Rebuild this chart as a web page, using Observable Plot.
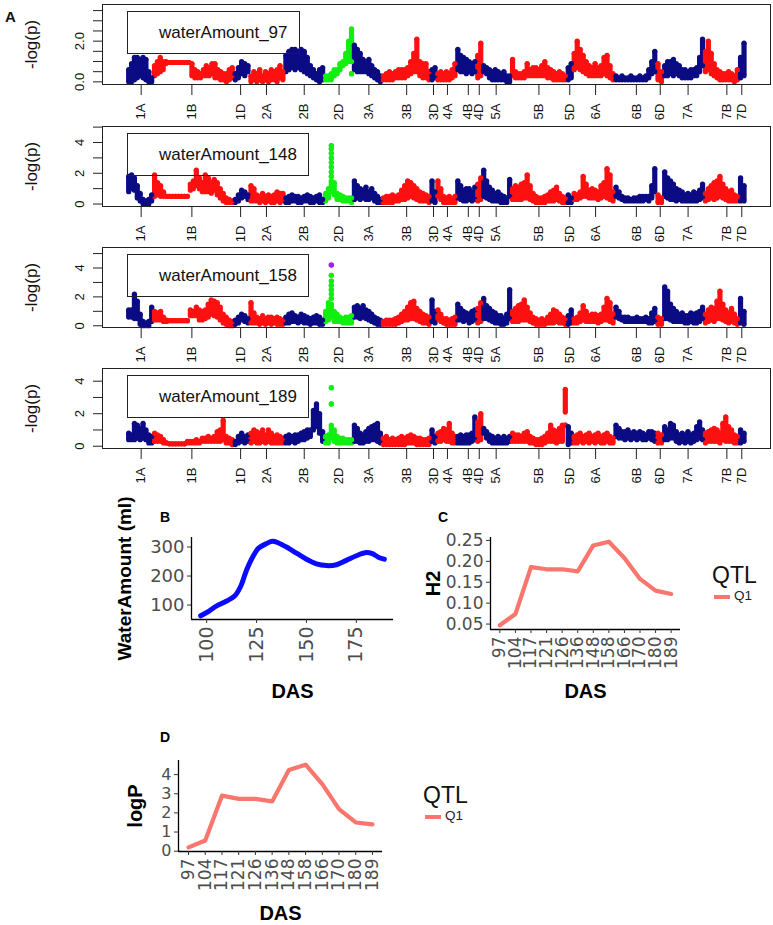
<!DOCTYPE html>
<html><head><meta charset="utf-8">
<script src="https://cdn.jsdelivr.net/npm/d3@7"></script>
<script src="https://cdn.jsdelivr.net/npm/@observablehq/plot@0.6"></script>
<style>
body{margin:0;background:#fff;}
#fig{position:relative;width:773px;height:925px;background:#fff;font-family:"Liberation Sans",Arial,Helvetica,sans-serif;overflow:hidden}
</style></head><body><div id="fig"></div><script>
// ---------- Panel A data (Manhattan plots) ----------
const chromNames = ["1A","1B","1D","2A","2B","2D","3A","3B","3D","4A","4B","4D","5A","5B","5D","6A","6B","6D","7A","7B","7D"];
const chromLengths = [26,81,16,35,40,29,29,49,6,20,20,6,29,56,6,42,42,7,41,35,7];
const chromTickPos = [14,65,114,140,178,213,243,281,308,322,343,354,371,414,445,471,512,536,564,603,618];
const highlightChrom = "2D";
// Each chromosome: marker bins along the chromosome; "lo-hi" = range of -log(p) x10 within bin, "/" separates clusters
const p97 = [
"0-6 0-9 1-12 2-12 3-11 2-12 1-11 0-5 0-2",
"3-8 4-10 5-12 6-10 9-10 9.5 9.5 9.5 9.5 9.5 9.5 9.5 9.5 3-9 2-6 2-5 2-4 3-6 3-8 3-7 4-9 2-9 2-6 1-5 1-4 0-4 1-6 2-7",
"1-4 2-7 4-10 3-9 5-8",
"0-3 1-5 0-4 1-6 0-3 1-5 0-4 1-6 1-5 0-6 2-8 1-5",
"5-13 6-15 7-16 6-16 7-15 6-16 5-15 4-12 3-8 2-6 1-4 0-6 1-7",
"1-3 1-3 1-4 3-6 4-6 6-9 8-10 9-14 10-20 4/10-26",
"6-18 5-16 5-14 5-11 5-10 4-11 3-8 2-6 1-5 0-3",
"1-3 1-4 1-5 1-4 2-5 2-6 2-6 2-6 3-7 4-10 5-14 5-21 3-10 2-9 2-9 1-5",
"1-6 2-7",
"1-4 1-5 1-4 1-5 1-4 2-6 3-9",
"6-16 5-13 5-12 4-11 5-10 4-9 5-10",
"2-13 3-19",
"5-8 4-7 2-6 1-5 1-6 1-5 1-4 1-5 0-3 0-3",
"3-11 2-5 2-4 2-4 2-5 3-9 3-6 3-7 3-7 3-6 3-8 3-10 2-7 2-6 1-5 1-4 1-5 1-4 1-3",
"1-7 2-9",
"6-14 7-20 6-16 5-13 4-10 3-8 3-7 3-9 3-7 3-8 4-12 3-13 2-8 1-4",
"1-3 1-2 1-3 1-2 1-2 1-3 1-2 1-2 1-3 1-2 1-3 2-6 4-10 5-15",
"1-9 0-5",
"3-8 3-10 4-10 3-11 4-9 3-8 2-6 2-6 2-5 2-6 3-6 3-7 5-12 8-21",
"5-15 6-20 4-14 3-9 2-6 1-5 1-4 1-4 1-5 1-4 0-3 1-6",
"2-12 3-19"];
const p148 = [
"8-18 10-19 9-17 4-12 2-7 0-3 0-2 0-3 2-6",
"5-19 6-14 5-12 5-8 5 5 5 5 5 5 5 5 9-13 10-15 12-22 10-17 8-14 8-19 8-17 7-14 9-16 6-14 4-10 2-7 1-4 1-3 1-2",
"1-3 2-6 4-9 5-8 3-6",
"2-12 2-10 2-6 1-5 2-7 1-5 2-6 1-5 1-6 2-8 1-7 2-7",
"1-4 1-5 2-6 2-5 1-5 1-4 2-5 2-6 1-5 1-4 2-5 1-6 1-3",
"2-7 4-10 8-15/18/21/24/27/30/33/36/38 6-14 3-7 3-6 2-5 2-4 2-4 1-4",
"3-15 4-12 3-10 4-9 3-11 3-8 4-10 2-7 1-5 1-3",
"1-4 1-5 1-5 1-6 2-5 2-6 3-9 3-12 4-15 5-14 4-12 3-10 2-8 2-7 2-6 1-5",
"2-15 1-8",
"5-15 3-10 1-5 1-4 1-5 1-3 1-5",
"4-15 3-12 2-9 2-10 3-10 2-8 3-11",
"2-13 3-17",
"5-22 4-15 3-11 2-9 2-7 2-8 1-6 1-5 1-4 5-16",
"3-10 3-12 3-11 3-13 4-14 4-19 3-12 2-7 1-5 1-4 1-4 1-5 2-6 2-8 2-9 3-11 2-7 1-5 1-4",
"1-6 1-4",
"3-7 3-6 4-8 5-18 5-13 4-9 4-10 4-9 3-8 4-12 5-14 4-23 3-19 2-8",
"5-11 4-8 3-5 2-4 2-4 2-3 2-4 2-4 2-5 2-5 3-5 2-5 4-12 8-23",
"1-6 1-4",
"5-21 4-17 3-15 3-13 2-10 3-9 2-8 2-6 2-7 2-6 2-8 2-7 3-9 4-13",
"2-7 3-10 4-12 3-14 4-15 5-18 4-13 3-10 2-8 2-9 2-6 2-5",
"2-17 2-12"];
const p158 = [
"6-11 6-11 5-22 5-17 1-8 0-3 0-2 0-3 3-13",
"4-10 4-9 4-10 3-6 3-4 3.5 3.5 3.5 3.5 3.5 3.5 3.5 7-11 7-10 7-13 4-11 4-10 5-11 6-15 8-18 7-17 6-16 4-13 2-8 1-6 0-4 0-3",
"1-4 2-6 4-8 3-7 2-5",
"2-16 2-9 2-6 1-5 2-7 1-5 2-6 1-6 2-5 1-6 1-5 1-4",
"2-6 2-8 3-9 3-7 2-6 3-8 2-7 2-6 1-5 2-6 2-7 1-6 1-4",
"3-10 4-16 6-15/19/22/25/28/31/35 3-10 3-8 3-6 2-5 2-6 2-6 2-7",
"6-13 6-14 5-12 6-14 5-11 4-10 3-8 2-6 1-5 1-4",
"1-3 1-4 1-4 1-4 1-5 2-6 3-8 4-10 4-13 5-16 5-17 4-12 3-10 2-8 2-7 1-6",
"3-18 2-10",
"5-11 3-8 2-5 1-5 1-4 1-5 1-6",
"4-15 4-12 3-10 4-9 2-8 3-10 4-11",
"2-12 3-16",
"5-19 5-14 4-12 3-10 2-9 2-7 1-7 1-5 2-8 5-25",
"3-10 3-12 3-14 4-15 4-18 4-13 3-9 2-6 1-5 1-4 1-5 1-4 2-6 2-8 2-11 3-10 2-8 2-6 1-5",
"1-7 2-11",
"2-5 2-6 3-9 4-14 3-10 3-7 3-8 3-8 2-7 3-8 4-13 4-19 3-16 2-8",
"6-13 5-10 4-6 3-6 3-6 3-5 3-5 3-6 3-5 3-5 3-6 2-5 2-9 3-12",
"1-6 1-5",
"5-27 5-24 4-15 3-12 3-10 3-8 3-9 2-7 2-7 3-9 2-8 2-9 3-10 5-13",
"2-8 3-11 4-13 3-12 5-17 5-24 4-15 3-11 2-9 3-12 2-8 1-5",
"2-19 1-10"];
const p189 = [
"4-8 4-7 4-14 5-13 4-11 5-14 4-10 2-7 2-6",
"3-8 3-7 3-6 2-4 2 1.5 1.5 1.5 1.5 1.5 1.5 2-3 2-3 2-3 2-4 2-3 3-5 3-5 3-6 3-5 3-6 3-9 3-10 4-16 2-6 2-5 1-4",
"1-3 2-6 3-8 2-6 3-7",
"2-8 3-10 2-9 2-8 3-10 2-7 3-10 2-8 2-6 2-7 2-6 2-5",
"2-6 2-7 3-6 2-7 3-7 4-8 4-9 5-10 6-10 10-22 12-26 8-20 3-9",
"2-6 2-7 5-13/26/36 3-10 2-6 2-5 2-5 2-4 2-4 2-4",
"3-13 3-11 2-8 2-7 3-9 3-11 4-12 4-13 3-14 2-8",
"1-5 1-6 1-4 1-5 1-4 1-5 1-6 1-5 2-6 2-7 2-6 1-5 1-5 1-4 1-4 1-5",
"3-10 2-6",
"3-8 3-9 4-11 3-10 3-14 2-8 2-6",
"2-6 2-7 2-6 2-7 2-7 3-8 4-18",
"3-15 4-20",
"8-11 5-9 3-7 2-6 2-5 2-6 2-5 2-6 2-5 3-6",
"3-8 3-7 3-7 3-6 3-8 3-9 2-6 2-5 1-4 1-4 1-5 2-6 3-8 3-13 3-10 2-9 3-11 3-13 13/21-35",
"1-12 2-8",
"2-6 2-7 3-8 2-6 3-7 2-8 3-6 2-7 3-8 2-6 2-7 3-8 2-6 2-5",
"6-13 5-11 5-9 4-9 5-10 4-8 5-9 4-8 5-9 4-8 4-7 5-9 4-9 3-8",
"2-8 2-7",
"4-12 4-10 5-14 5-13 3-9 2-7 3-8 2-7 3-9 2-7 3-8 4-12 5-15 4-10",
"2-8 3-9 3-10 3-11 3-10 2-8 4-14 3-18 3-12 3-10 2-7 2-6",
"2-10 3-8"];
const traitNames = ["waterAmount_97","waterAmount_148","waterAmount_158","waterAmount_189"];
const topMarker158 = {chrom: "2D", bin: 2, value: 4.2};

// ---------- Panels B, C, D data ----------
const bDas = [97,101,105,110,114,117,120,123,126,130,133,136,140,145,150,155,160,165,170,175,180,183,186,189];
const bWater = [63,78,97,114,131,164,221,265,296,312,320,314,300,279,258,242,236,239,254,270,281,277,265,258];
const bTicksX = [100,125,150,175];
const bTicksY = [100,200,300];
const qtlDas = [97,104,117,121,126,136,148,158,166,170,180,189];
const h2 = [0.047,0.074,0.186,0.181,0.181,0.176,0.238,0.247,0.208,0.158,0.130,0.122];
const logP = [0.2,0.56,2.9,2.73,2.73,2.6,4.24,4.52,3.5,2.2,1.5,1.4];
const h2Ticks = [0.05,0.10,0.15,0.20,0.25];
const logPTicks = [0,1,2,3,4];

// ---------- helpers ----------
const fig = document.getElementById("fig");
const FONT = '"Liberation Sans", Arial, Helvetica, sans-serif';
const NAVY = "#0b0b84", RED = "#ff1010", GREEN = "#10f010", PURPLE = "#a020f0";
const colorOf = ci => chromNames[ci] === highlightChrom ? GREEN : (ci % 2 ? RED : NAVY);

function parseBins(bins) {
  const rows = [];
  let start = 0;
  bins.forEach((str, ci) => {
    const tokens = str.trim().split(/\s+/);
    const len = chromLengths[ci];
    tokens.forEach((tok, k) => {
      const x = start + (k + 0.5) * len / tokens.length;
      tok.split("/").forEach(part => {
        const [a, b = a] = part.split("-").map(Number);
        rows.push({chrom: chromNames[ci], ci, k, x, lo: a / 10, hi: b / 10, color: colorOf(ci)});
      });
    });
    start += len;
  });
  return rows;
}
function place(node, left, top) {
  node.style.position = "absolute";
  node.style.left = left + "px";
  node.style.top = top + "px";
  fig.appendChild(node);
  return node;
}
function html(text, left, top, css) {
  const d = document.createElement("div");
  d.textContent = text;
  d.style.cssText = `position:absolute;left:${left}px;top:${top}px;white-space:nowrap;${css}`;
  fig.appendChild(d);
  return d;
}
const expand = (ext, f = 0.05) => [ext[0] - (ext[1] - ext[0]) * f, ext[1] + (ext[1] - ext[0]) * f];

// ---------- Panel A ----------
const genomeLen = d3.sum(chromLengths);
const xPad = genomeLen * 0.04;
const panelCfg = [
  {bins: p97, y: [-0.13, 3.8], ticks: d3.range(0, 3.51, 0.5), labeled: [0, 2], fmt: d3.format(".1f")},
  {bins: p148, y: [-0.16, 5.04], ticks: d3.range(0, 5.01, 1), labeled: [0, 2, 4], fmt: d3.format("d")},
  {bins: p158, y: [-0.12, 5.42], ticks: d3.range(0, 5.01, 1), labeled: [0, 2, 4], fmt: d3.format("d")},
  {bins: p189, y: [-0.14, 4.78], ticks: d3.range(0, 4.01, 1), labeled: [0, 2, 4], fmt: d3.format("d")}
];
const boxTops = [4, 126, 247, 368];

panelCfg.forEach((cfg, pi) => {
  const rows = parseBins(cfg.bins);
  const marks = [
    Plot.ruleX(rows.filter(d => d.hi > d.lo), {x: "x", y1: "lo", y2: "hi", stroke: "color", strokeWidth: 5.2}),
    Plot.dot(rows, {x: "x", y: "lo", r: 2.6, fill: "color"}),
    Plot.dot(rows, {x: "x", y: "hi", r: 2.6, fill: "color"})
  ];
  if (pi === 2) {
    const ci = chromNames.indexOf(topMarker158.chrom);
    const ref = rows.find(d => d.ci === ci && d.k === topMarker158.bin);
    marks.push(Plot.dot([{x: ref.x, v: topMarker158.value}], {x: "x", y: "v", r: 2.8, fill: PURPLE}));
  }
  marks.push(
    Plot.frame({stroke: "#222", strokeWidth: 1}),
    Plot.axisY({ticks: cfg.ticks, tickFormat: d => cfg.labeled.includes(d) ? cfg.fmt(d) : "", tickRotate: -90,
      tickSize: 9, tickPadding: 10, fontSize: 13, label: null, fill: "#111", stroke: "#222"}),
    Plot.axisX({ticks: chromTickPos, tickFormat: d => chromNames[chromTickPos.indexOf(d)], tickRotate: -90,
      tickSize: 11, tickPadding: 8, fontSize: 13, label: null, fill: "#111", stroke: "#222"}),
    Plot.text(["-log(p)"], {frameAnchor: "left", dx: -71, rotate: -90, textAnchor: "middle", lineAnchor: "middle", fontSize: 17, fill: "#111"})
  );
  const svg = Plot.plot({
    width: 773, height: 121, marginLeft: 102, marginRight: 3, marginTop: 2, marginBottom: 39,
    x: {domain: [-xPad, genomeLen + xPad], label: null},
    y: {domain: cfg.y, label: null},
    color: {type: "identity"},
    style: {fontFamily: FONT, background: "transparent", overflow: "visible", color: "#111"},
    marks
  });
  place(svg, 0, boxTops[pi] - 2);
  html(traitNames[pi], 127, boxTops[pi] + 7,
    "border:1px solid #222;box-sizing:border-box;height:43px;line-height:41px;font-size:17px;padding:0 11px 0 31px;color:#111;");
});
html("A", 5, 8, "font-weight:bold;font-size:15px;color:#111;");

// ---------- Panel B ----------
const axisStyle = {fontFamily: '"DejaVu Sans", sans-serif', background: "transparent", overflow: "visible", color: "#111"};
{
  const rows = bDas.map((d, i) => ({das: d, water: bWater[i]}));
  const xd = expand(d3.extent(bDas)), yd = expand(d3.extent(bWater));
  const svg = Plot.plot({
    width: 400, height: 210, marginLeft: 191, marginRight: 7, marginTop: 37, marginBottom: 91,
    x: {domain: xd, label: null}, y: {domain: yd, label: null},
    style: axisStyle,
    marks: [
      Plot.line(rows, {x: "das", y: "water", stroke: "#0a0aff", strokeWidth: 5, curve: "catmull-rom"}),
      Plot.ruleX([xd[0]], {stroke: "#000", strokeWidth: 1.3}),
      Plot.ruleY([yd[0]], {stroke: "#000", strokeWidth: 1.3}),
      Plot.axisY({ticks: bTicksY, tickSize: 4, tickPadding: 3, fontSize: 18, fill: "#4d4d4d", stroke: "#333", label: null}),
      Plot.axisX({ticks: bTicksX, tickRotate: -90, tickSize: 4, tickPadding: 3, fontSize: 19, fill: "#4d4d4d", stroke: "#333", label: null}),
      Plot.text(["DAS"], {frameAnchor: "bottom", dy: 72, lineAnchor: "middle", fontSize: 20, fontWeight: "bold", fontFamily: FONT, fill: "#000"}),
      Plot.text(["WaterAmount (ml)"], {frameAnchor: "left", dx: -67, rotate: -90, textAnchor: "middle", lineAnchor: "middle", fontSize: 19, fontWeight: "bold", fontFamily: FONT, fill: "#000"})
    ]
  });
  place(svg, 0, 500);
  html("B", 160, 510, "font-weight:bold;font-size:14px;line-height:14px;color:#000;");
}

// ---------- Panels C, D ----------
function qtlPlot(values, ticks, fmt, opts) {
  const rows = values.map((v, i) => ({i: i + 1, v}));
  const xd = [0.4, qtlDas.length + 0.6];
  const yd = expand(d3.extent(values));
  return Plot.plot({
    width: opts.width, height: opts.height, marginLeft: opts.ml, marginRight: opts.mr, marginTop: opts.mt, marginBottom: opts.mb,
    x: {domain: xd, label: null}, y: {domain: yd, label: null},
    style: axisStyle,
    marks: [
      Plot.line(rows, {x: "i", y: "v", stroke: "#F8766D", strokeWidth: 4.2}),
      Plot.ruleX([xd[0]], {stroke: "#000", strokeWidth: 1.3}),
      Plot.ruleY([yd[0]], {stroke: "#000", strokeWidth: 1.3}),
      Plot.axisY({ticks, tickFormat: fmt, tickSize: 4, tickPadding: 3, fontSize: opts.fy, fill: "#4d4d4d", stroke: "#333", label: null}),
      Plot.axisX({ticks: d3.range(1, qtlDas.length + 1), tickFormat: d => String(qtlDas[d - 1]), tickRotate: -90,
        tickSize: 4, tickPadding: 3, fontSize: opts.fx, fill: "#4d4d4d", stroke: "#333", label: null}),
      Plot.text(["DAS"], {frameAnchor: "bottom", dy: opts.dasDy, lineAnchor: "middle", fontSize: 20, fontWeight: "bold", fontFamily: FONT, fill: "#000"}),
      Plot.text([opts.title], {frameAnchor: "left", dx: opts.titleDx, rotate: -90, textAnchor: "middle", lineAnchor: "middle", fontSize: 20, fontWeight: "bold", fontFamily: FONT, fill: "#000"})
    ]
  });
}
function qtlLegend(left, top) {
  html("QTL", left, top, "font-size:23px;line-height:23px;color:#111;");
  const sw = document.createElement("div");
  sw.style.cssText = `position:absolute;left:${left + 2}px;top:${top + 31}px;width:16px;height:4px;background:#F8766D;`;
  fig.appendChild(sw);
  html("Q1", left + 22, top + 25, "font-size:13.5px;line-height:14px;color:#222;");
}
place(qtlPlot(h2, h2Ticks, d3.format(".2f"), {width: 373, height: 210, ml: 90, mr: 93, mt: 37, mb: 81, fy: 17, fx: 17, dasDy: 62, title: "H2", titleDx: -57}), 400, 500);
html("C", 438, 510, "font-weight:bold;font-size:14px;line-height:14px;color:#000;");
qtlLegend(712, 564);

place(qtlPlot(logP, logPTicks, d3.format("d"), {width: 400, height: 205, ml: 178, mr: 18, mt: 40, mb: 74, fy: 16, fx: 17, dasDy: 62, title: "logP", titleDx: -43}), 0, 720);
html("D", 160, 730, "font-weight:bold;font-size:14px;line-height:14px;color:#000;");
qtlLegend(423, 784);
</script></body></html>
